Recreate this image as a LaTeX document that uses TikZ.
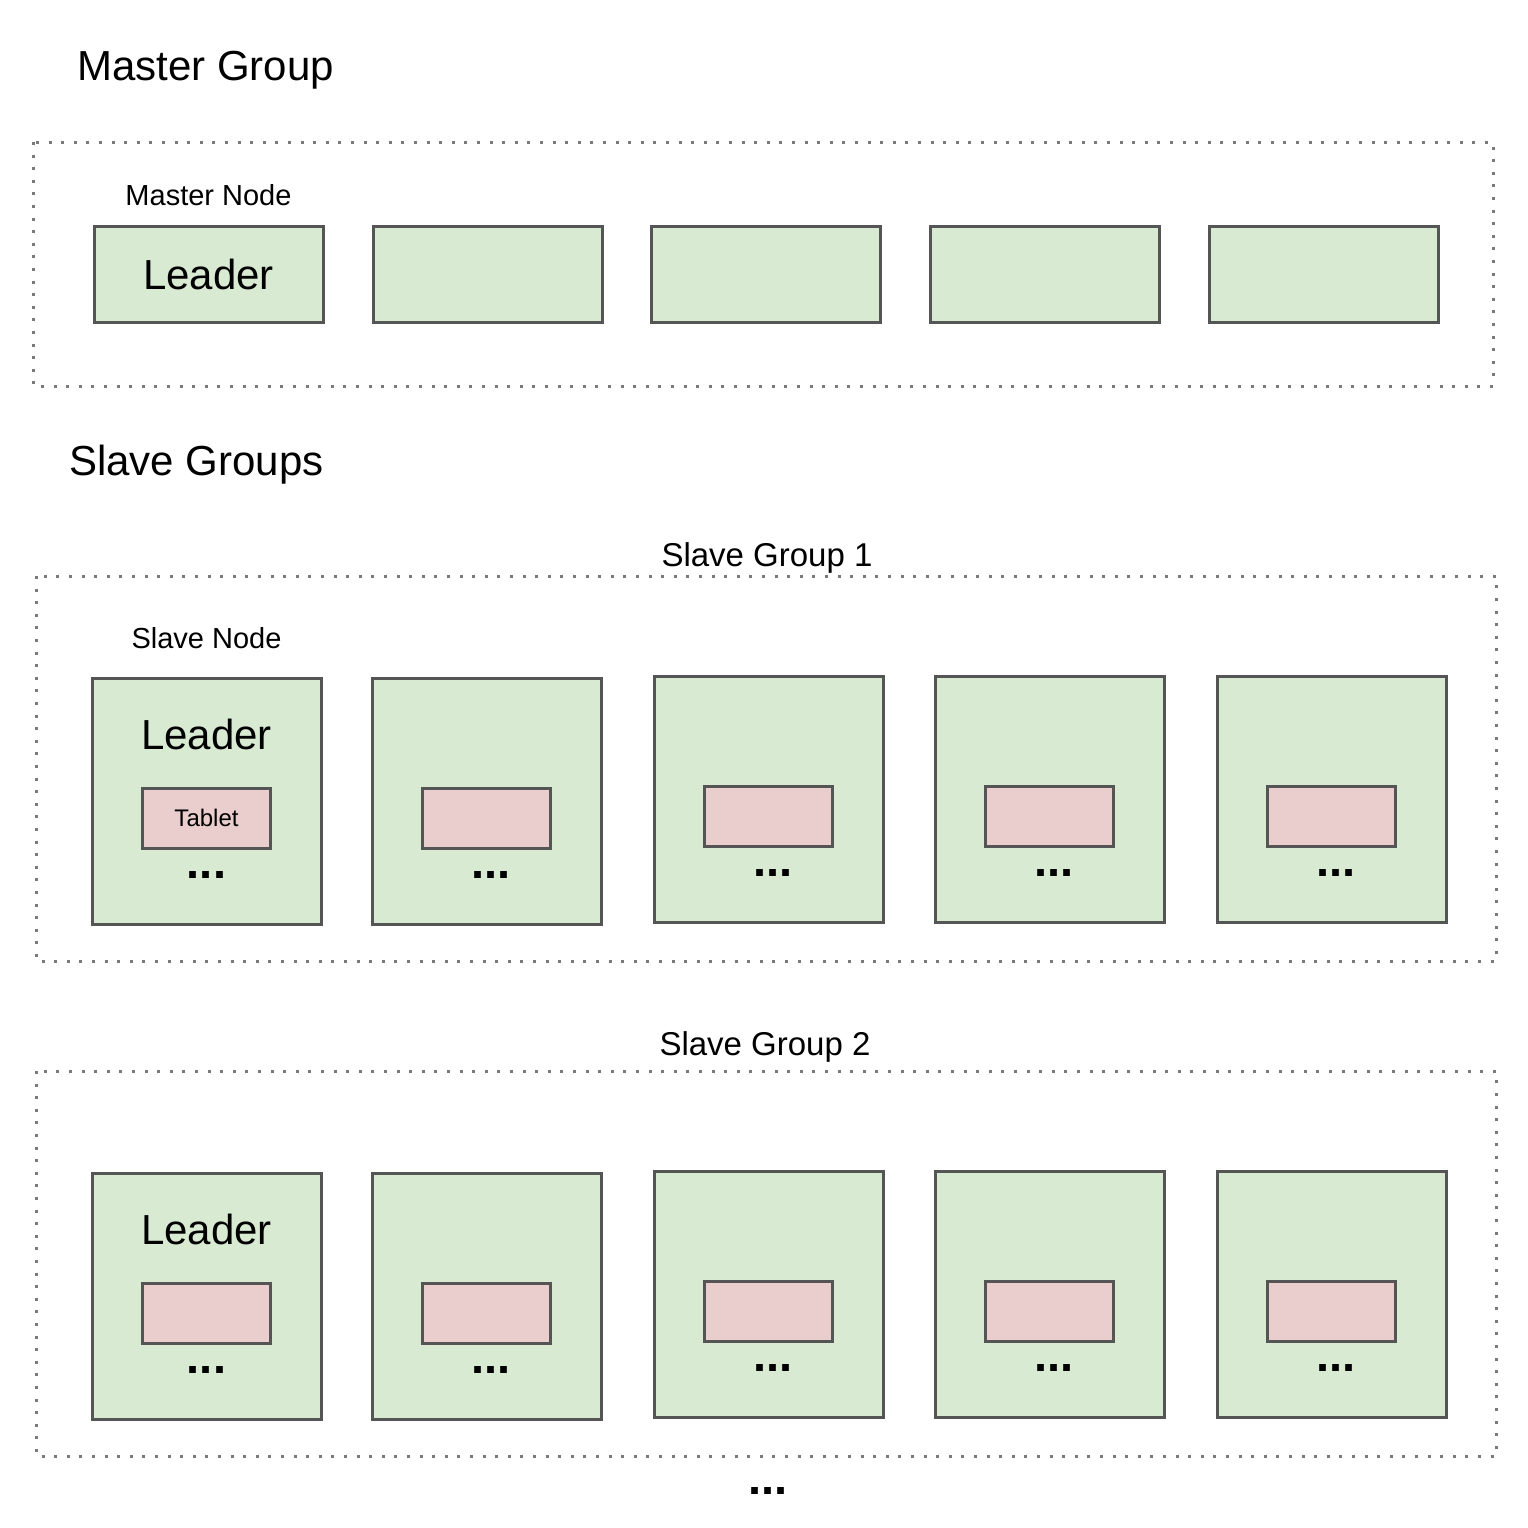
\documentclass[tikz,border=0pt]{standalone}
\usepackage{fontspec}
\setmainfont{Liberation Sans}
\usetikzlibrary{positioning}
\definecolor{nodegreen}{HTML}{D9EAD3}
\definecolor{tabletpink}{HTML}{EACDCD}
\definecolor{boxline}{HTML}{555555}
\definecolor{dotline}{HTML}{7A7A7A}

\begin{document}
\begin{tikzpicture}[
			x=1pt, y=-1pt,
			group/.style={draw=dotline, line width=3pt, dash pattern=on 3pt off 9.6pt},
			masternode/.style={rectangle, draw=boxline, line width=3pt, fill=nodegreen,
					minimum width=229pt, minimum height=96pt, inner sep=0pt, font=\fontsize{42}{50}\selectfont},
			slavenode/.style={masternode, minimum height=246pt},
			tablet/.style={rectangle, draw=boxline, line width=3pt, fill=tabletpink,
					minimum width=128pt, minimum height=60pt, inner sep=0pt, font=\fontsize{24}{28}\selectfont},
			heading/.style={inner sep=0pt, font=\fontsize{42}{50}\selectfont},
			grouptitle/.style={inner sep=0pt, font=\fontsize{33}{40}\selectfont},
			nodetitle/.style={inner sep=0pt, font=\fontsize{29}{35}\selectfont},
			more/.style={inner sep=0pt, font=\fontsize{47}{50}\selectfont\bfseries}
		]
		\useasboundingbox (0,0) rectangle (1528,1528);

		% master group
		\node[heading, anchor=west] (mastergroup) at (77,70) {Master Group};
		\draw[group] (33,142) rectangle (1493,386);
		\foreach \i/\x in {1/208.5, 2/487.5, 3/765.5, 4/1044.5, 5/1323.5}
		\node[masternode] (m\i) at (\x,274) {\ifnum\i=1 Leader\fi};
		\node[nodetitle, above=19pt of m1] (masternodetitle) {Master Node};

		% slave groups
		\node[heading, anchor=west] (slavegroups) at (69,465) {Slave Groups};
		\foreach \g/\gy/\lx/\ly in {1/576/767/558, 2/1071/765/1047} {
				\node[grouptitle] (sg\g title) at (\lx,\ly) {Slave Group \g};
				\draw[group] (36,\gy) rectangle (1496,\gy+385);
				\foreach \i/\x/\dx/\dy in {1/206.5/0/0, 2/486.5/4.5/0, 3/768.5/4.5/-2, 4/1049.5/4.5/-2, 5/1331.5/4.5/-2} {
						\node[slavenode] (s\g-\i) at (\x,\gy+225+\dy) {};
						\node[tablet, below=110pt of s\g-\i.north] (t\g-\i) {\ifnum\g\i=11 Tablet\fi};
						\path (s\g-\i.north) ++(\dx,198) node[more] (d\g-\i) {...};
						\ifnum\i=1
							\path (s\g-\i.north) ++(0,58) node[heading] (leader\g) {Leader};
						\fi
					}
			}
		\node[nodetitle, above=28pt of s1-1] (slavenodetitle) {Slave Node};
		\node[more] (moregroups) at (768,1491) {...};
	\end{tikzpicture}
\end{document}
